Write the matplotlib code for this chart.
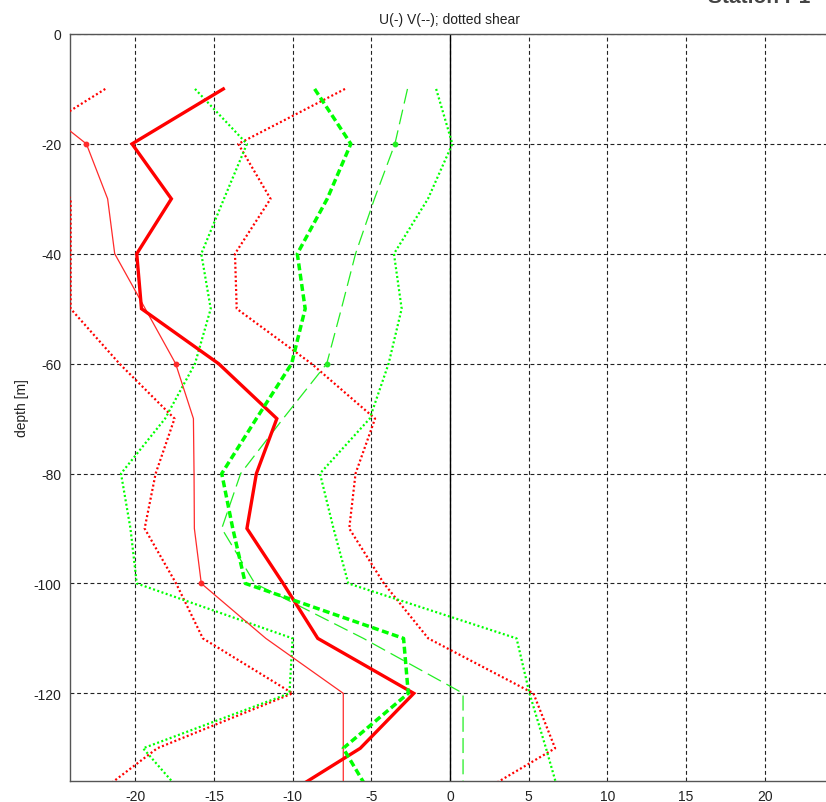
import numpy as np
import matplotlib
matplotlib.use("Agg")
import matplotlib.pyplot as plt

# Depth levels of the profile [m]
depth = [-10, -20, -30, -40, -50, -60, -70, -80, -90, -100, -110, -120, -130, -140]

# East (U) and north (V) velocity profiles
u_mean = [-14.4, -20.2, -17.7, -19.9, -19.6, -14.7, -11.0, -12.3, -12.9, -10.6, -8.4, -2.3, -5.7, -11.3]
v_mean = [-8.6, -6.3, -7.8, -9.7, -9.2, -10.06, -12.3, -14.5, -13.8, -13.0, -2.95, -2.65, -6.78, -4.7]

# Second set of profiles (thin lines)
u_alt = [-27.5, -23.1, -21.75, -21.3, -19.36, -17.43, -16.3, -16.26, -16.24, -15.8, -11.7, -6.78, -6.78, -6.78]
v_alt = [-2.7, -3.5, -4.8, -6.0, -6.9, -7.83, -10.6, -13.3, -14.5, -12.4, -5.5, 0.83, 0.83, 0.83]

# Shear envelopes (dotted)
u_shear_lo = [-21.9, -27.5, -24.1, -24.1, -24.1, -21.0, -17.5, -18.7, -19.4, -17.4, -15.7, -10.0, -18.6, -23.2]
u_shear_hi = [-6.67, -13.45, -11.4, -13.66, -13.55, -8.8, -4.76, -6.0, -6.4, -4.2, -1.38, 5.3, 6.68, 0.75]
v_shear_lo = [-16.2, -12.9, -14.36, -15.8, -15.2, -16.2, -18.1, -20.9, -20.3, -19.9, -10.0, -10.2, -19.5, -16.45]
v_shear_hi = [-0.88, 0.15, -1.4, -3.56, -3.07, -3.9, -5.1, -8.26, -7.4, -6.46, 4.23, 5.05, 6.1, 7.1]

xticks = [-20, -15, -10, -5, 0, 5, 10, 15, 20]
yticks = [-120, -100, -80, -60, -40, -20, 0]

plt.rcParams['font.family'] = ['Liberation Sans', 'DejaVu Sans']
plt.rcParams['axes.unicode_minus'] = False

fig = plt.figure(figsize=(8.26, 8.03), dpi=100)
ax = fig.add_axes([0.08438, 0.02653, 0.9208, 0.92989])

RED = '#ff0000'
GREEN = '#00ff00'
dotted = (0, (0.9, 1.1))

ax.plot(u_shear_lo, depth, color=RED, lw=1.6, linestyle=dotted, zorder=3)
ax.plot(u_shear_hi, depth, color=RED, lw=1.6, linestyle=dotted, zorder=3)
ax.plot(v_shear_lo, depth, color=GREEN, lw=1.6, linestyle=dotted, zorder=3)
ax.plot(v_shear_hi, depth, color=GREEN, lw=1.6, linestyle=dotted, zorder=3)

ax.plot(u_alt, depth, color='#ff2a2a', lw=0.9, marker='o', markersize=3.2,
        markevery=[1, 5, 9], zorder=3)
ax.plot(v_alt, depth, color='#22ee22', lw=0.9, linestyle=(0, (12, 5)), marker='o',
        markersize=3.2, markevery=[1, 5], zorder=3)

ax.plot(u_mean, depth, color=RED, lw=2.4, zorder=4, solid_joinstyle='miter')
ax.plot(v_mean, depth, color=GREEN, lw=2.5, linestyle=(0, (2.0, 1.0)), zorder=4)

ax.axvline(0, color='black', lw=1.0, zorder=1.5)

ax.set_xlim(-24.16, 24.16)
ax.set_ylim(-135.9, 0)
ax.set_xticks(xticks)
ax.set_yticks(yticks)
ax.grid(True, color='#222222', lw=0.8, linestyle=(0, (3.5, 2.5)))
ax.set_axisbelow(True)
ax.tick_params(direction='in', length=0, labelsize=10, labelcolor='#222222', pad=6)

for s in ax.spines.values():
    s.set_color('#555555')
    s.set_linewidth(1.0)

ax.set_ylabel('depth [m]', fontsize=10, color='#222222', labelpad=3)
ax.set_title('U(-) V(--); dotted shear', fontsize=10, color='#222222', pad=8)

fig.text(708 / 826, 1 - 3 / 803, 'Station P1', fontsize=15, fontweight='bold',
         color='#444444', ha='left', va='baseline')

fig.savefig('out.png', dpi=100)
